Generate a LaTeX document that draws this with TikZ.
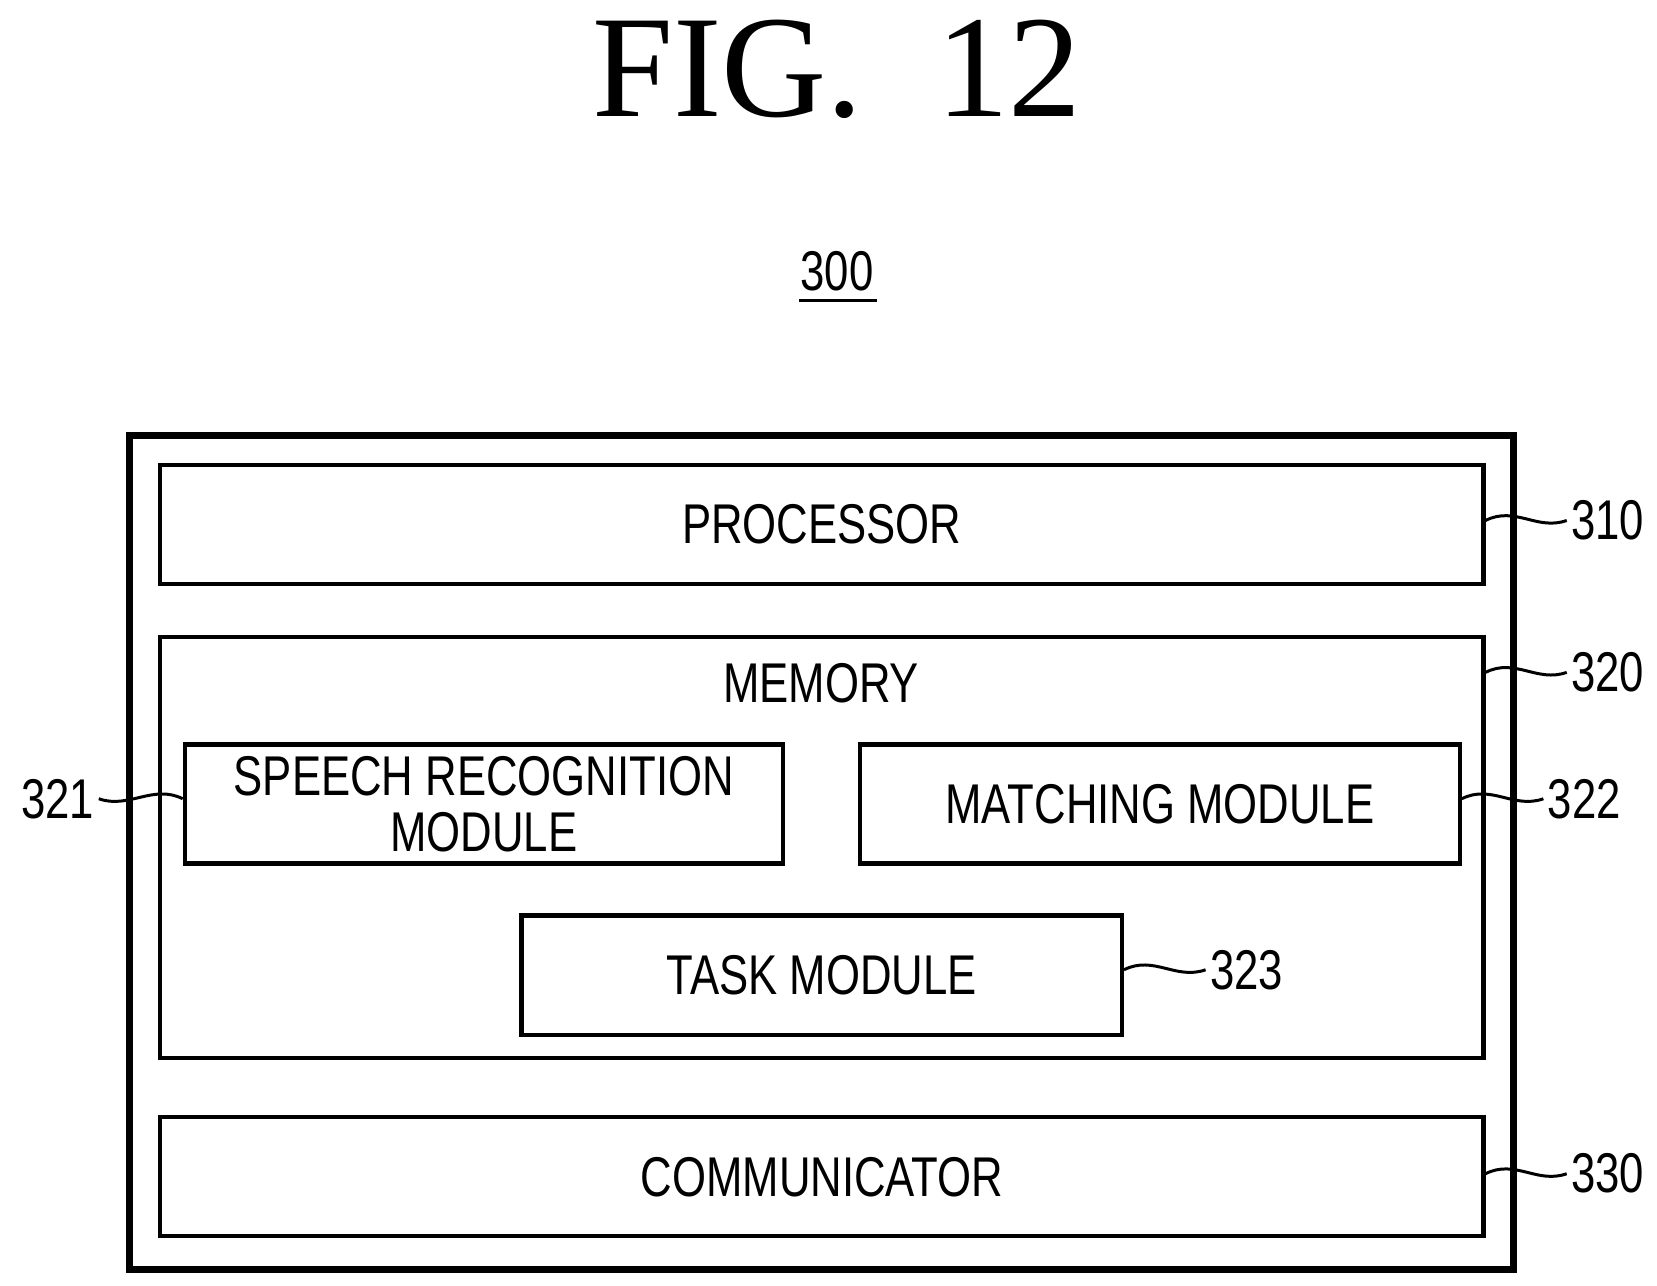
\documentclass[tikz,border=0pt]{standalone}
\usepackage{fontspec}
\setmainfont{Liberation Serif}
\newfontfamily\narrowfont[FakeStretch=0.78]{Liberation Sans}
\begin{document}
\begin{tikzpicture}[x=0.01cm,y=-0.01cm,
	every node/.style = {font=\narrowfont\fontsize{15}{17}\selectfont},
	box/.style = {draw, line width=1.1pt, anchor=north west, inner sep=0pt},
	lead/.style = {line width=0.8pt}]
	\useasboundingbox (0,0) rectangle (1560,1210);
	\tikzset{ ref/.style = {anchor=west, inner sep=1pt} }
	\node (fig) at (788,65) {\fontspec{Liberation Serif}\fontsize{39}{42}\selectfont FIG.\ \ 12};
	\node (dev) at (788,255) {300};
	\draw [line width=0.8pt] (752,283) -- (826,283);
	\draw [line width=2pt] (122,410) rectangle (1425,1195);
	\node [box, minimum width=12.45cm, minimum height=1.12cm] (proc) at (149,436) {};
	\node at (proc.center) {PROCESSOR};
	\node [box, minimum width=12.45cm, minimum height=3.96cm] (mem) at (149,598) {};
	\node at (773,643) {MEMORY};
	\node [box, minimum width=5.63cm, minimum height=1.12cm, align=center] (speech) at (172,699) {};
	\node [align=center, font=\narrowfont\fontsize{15}{15}\selectfont] at (speech.center) {SPEECH RECOGNITION\\MODULE};
	\node [box, minimum width=5.64cm, minimum height=1.12cm] (match) at (808,699) {};
	\node at (match.center) {MATCHING MODULE};
	\node [box, minimum width=5.65cm, minimum height=1.12cm] (task) at (489,860) {};
	\node at (task.center) {TASK MODULE};
	\node [box, minimum width=12.45cm, minimum height=1.12cm] (comm) at (149,1050) {};
	\node at (comm.center) {COMMUNICATOR};
	% reference numerals
	\node [ref] (l310) at (1475,490) {310};
	\node [ref] (l320) at (1475,633) {320};
	\node [ref] (l322) at (1453,752) {322};
	\node [ref] (l323) at (1135,913) {323};
	\node [ref] (l330) at (1475,1105) {330};
	\node [anchor=east, inner sep=1pt] (l321) at (93,752) {321};
	\draw [lead] (proc.east |- l310) .. controls +(28,-14) and +(-28,10) .. (l310.west);
	\draw [lead] (mem.east |- l320) .. controls +(28,-14) and +(-28,10) .. (l320.west);
	\draw [lead] (match.east |- l322) .. controls +(28,-14) and +(-28,10) .. (l322.west);
	\draw [lead] (task.east |- l323) .. controls +(28,-14) and +(-28,10) .. (l323.west);
	\draw [lead] (comm.east |- l330) .. controls +(28,-14) and +(-28,10) .. (l330.west);
	\draw [lead] (speech.west |- l321) .. controls +(-28,-14) and +(28,10) .. (l321.east);
\end{tikzpicture}
\end{document}
